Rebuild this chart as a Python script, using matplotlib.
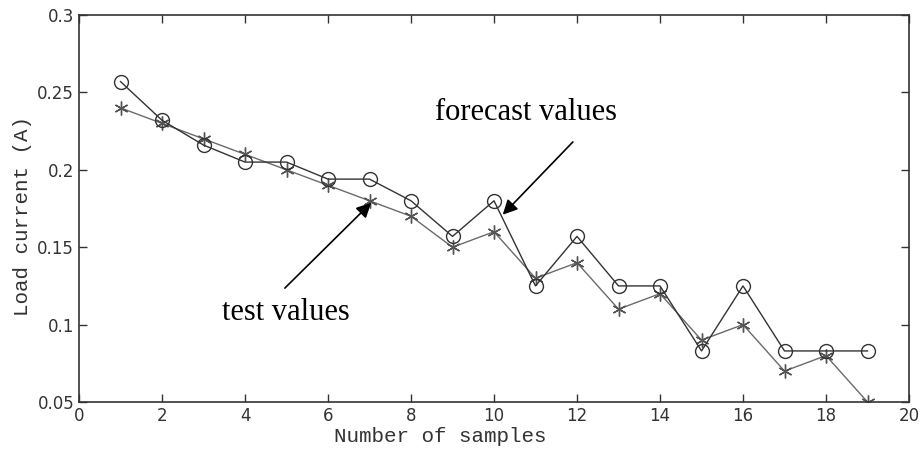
import matplotlib
matplotlib.use("Agg")
import matplotlib.pyplot as plt

samples = list(range(1, 20))
forecast = [0.257, 0.232, 0.216, 0.205, 0.205, 0.194, 0.194, 0.180, 0.157, 0.180,
            0.125, 0.157, 0.125, 0.125, 0.083, 0.125, 0.083, 0.083, 0.083]
test = [0.240, 0.230, 0.220, 0.210, 0.200, 0.190, 0.180, 0.170, 0.150, 0.160,
        0.130, 0.140, 0.110, 0.120, 0.090, 0.100, 0.070, 0.080, 0.050]
xticks = [0, 2, 4, 6, 8, 10, 12, 14, 16, 18, 20]
yticks = [0.05, 0.1, 0.15, 0.2, 0.25, 0.3]
yticklabels = ["0.05", "0.1", "0.15", "0.2", "0.25", "0.3"]

fig = plt.figure(figsize=(9.22, 4.51), dpi=100)
ax = fig.add_axes([0.0857, 0.1086, 0.9002, 0.8581])

ax.plot(samples, test, color="#6a6a6a", lw=1.0, marker=(6, 2, 0), ms=10,
        mec="#555555", mew=1.0)
ax.plot(samples, forecast, color="#333333", lw=1.0, marker="o", ms=10,
        mfc="none", mec="#333333", mew=1.0)

ax.set_xlim(0, 20)
ax.set_ylim(0.05, 0.3)
ax.set_xticks(xticks)
ax.set_yticks(yticks)
ax.set_yticklabels(yticklabels)
ax.tick_params(direction="in", top=True, right=True, length=6, width=1,
               labelsize=12, labelcolor="#333333", color="#333333")
for s in ax.spines.values():
    s.set_color("#333333")
    s.set_linewidth(1.2)

ax.set_xlabel("Number of samples", family="Liberation Mono", fontsize=15,
              color="#333333")
ax.xaxis.set_label_coords(0.435, -0.064)
ax.set_ylabel("Load current (A)", family="Liberation Mono", fontsize=15,
              color="#333333")
ax.yaxis.set_label_coords(-0.0566, 0.48)

# annotations
ax.text(10.77, 0.2373, "forecast values", fontsize=22, family="Liberation Serif",
        ha="center", va="center")
ax.annotate("", xy=(10.21, 0.171), xytext=(11.9, 0.218),
            arrowprops=dict(arrowstyle="-|>", color="black", lw=1.2,
                            mutation_scale=22, shrinkA=0, shrinkB=0))
ax.text(4.99, 0.108, "test values", fontsize=22, family="Liberation Serif",
        ha="center", va="center")
ax.annotate("", xy=(7.04, 0.1787), xytext=(4.96, 0.1236),
            arrowprops=dict(arrowstyle="-|>", color="black", lw=1.2,
                            mutation_scale=22, shrinkA=0, shrinkB=0))

fig.savefig("out.png", dpi=100)
